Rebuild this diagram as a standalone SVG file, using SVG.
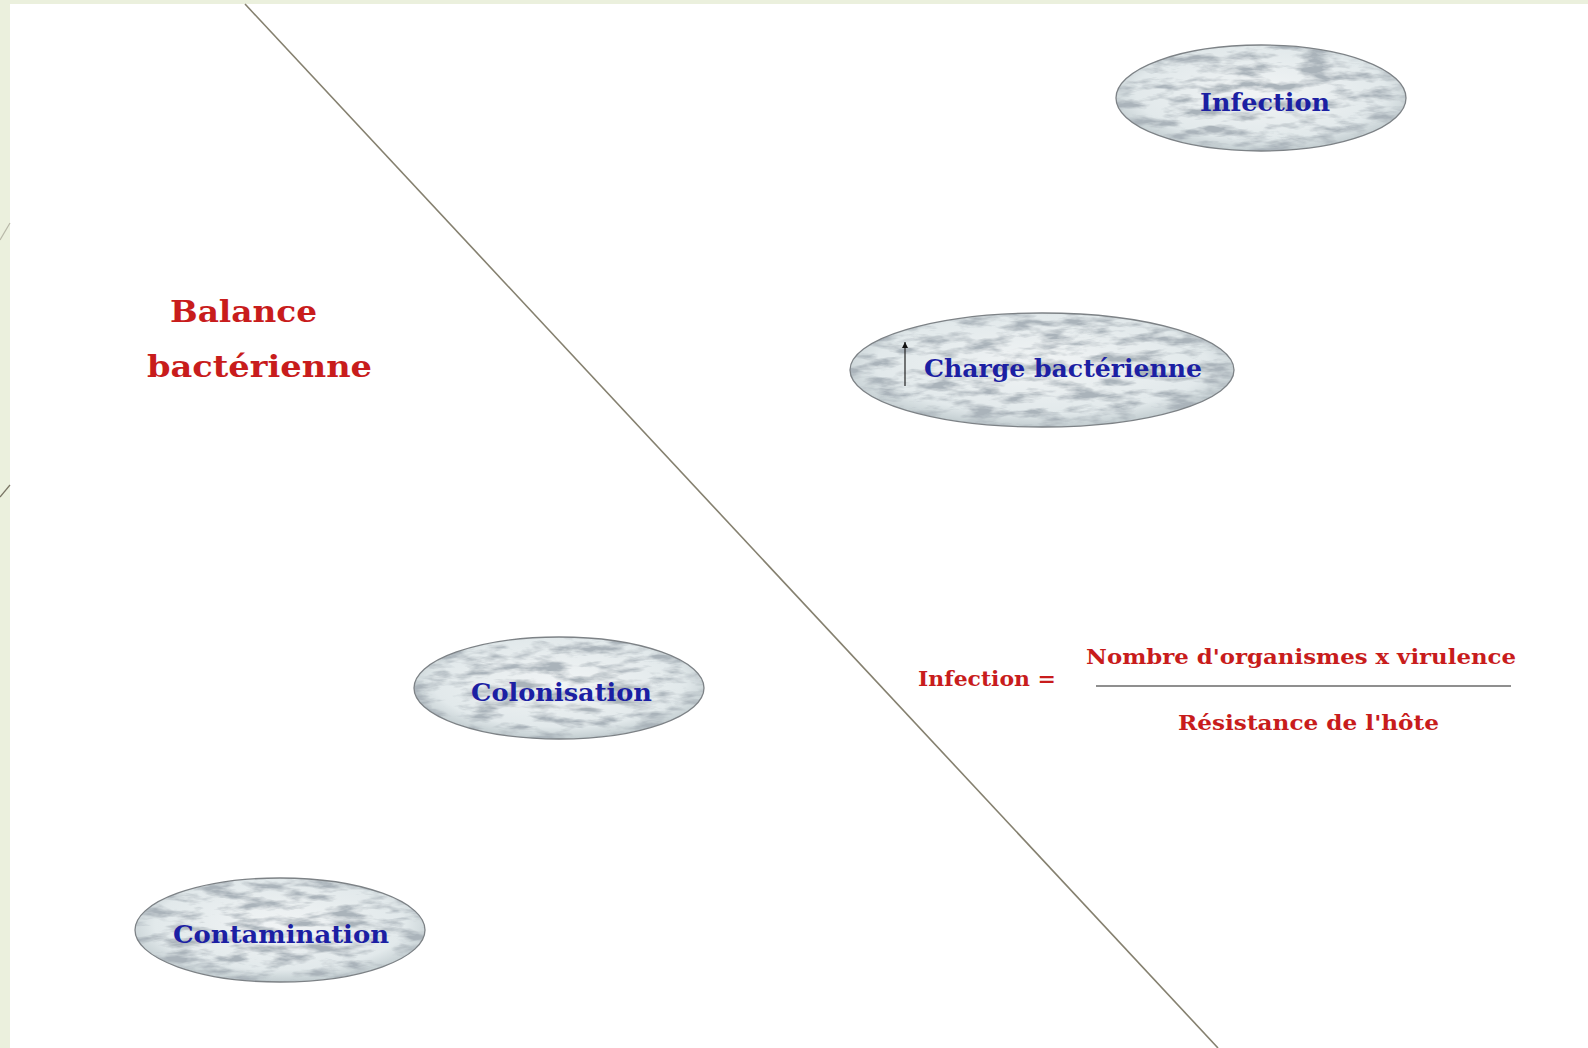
<svg xmlns="http://www.w3.org/2000/svg" width="1588" height="1048" viewBox="0 0 1588 1048">
  <style>
    .node-shape { fill: url(#marbleBase); filter: url(#marble); }
    .node-edge { fill: none; stroke: #7d8286; stroke-width: 1.3; }
    .node-label { font-family: "DejaVu Serif", "Liberation Serif", serif; font-weight: bold; fill: #1c1fa3; }
    .red { font-family: "DejaVu Serif", "Liberation Serif", serif; font-weight: bold; fill: #c81c1c; }
    .divider { stroke: #85806f; stroke-width: 1.6; fill: none; }
  </style>
  <defs>
    <radialGradient id="marbleBase" cx="50%" cy="45%" r="60%">
      <stop offset="0" stop-color="#f1f4f5"/>
      <stop offset="0.72" stop-color="#e2e9eb"/>
      <stop offset="1" stop-color="#b4c0c4"/>
    </radialGradient>
    <filter id="marble" x="0" y="0" width="100%" height="100%">
      <feTurbulence type="fractalNoise" baseFrequency="0.03 0.11" numOctaves="4" seed="11" result="noise"/>
      <feColorMatrix in="noise" type="matrix" values="0 0 0 0 0.40  0 0 0 0 0.45  0 0 0 0 0.49  0 0 -3.2 0 1.85" result="veins"/>
      <feComposite in="veins" in2="SourceGraphic" operator="in" result="clipped"/>
      <feMerge>
        <feMergeNode in="SourceGraphic"/>
        <feMergeNode in="clipped"/>
      </feMerge>
    </filter>
    <marker id="arrowHead" viewBox="0 0 10 10" refX="10" refY="5" markerWidth="8" markerHeight="6" orient="auto" markerUnits="userSpaceOnUse">
      <path d="M0,0 L10,5 L0,10 Z" fill="#111"/>
    </marker>
  </defs>

  <!-- background -->
  <rect x="0" y="0" width="1588" height="1048" fill="#ebf0dd"/>
  <rect x="10" y="4" width="1578" height="1044" fill="#ffffff"/>
  <line x1="0" y1="240" x2="10" y2="223" stroke="#b8b8a8" stroke-width="1.2"/>
  <line x1="0" y1="497" x2="10" y2="485" stroke="#7a7565" stroke-width="1.2"/>

  <g id="connectors">
    <line class="divider" x1="245" y1="4" x2="1218" y2="1048"/>
    <line x1="1096" y1="686" x2="1511" y2="686" stroke="#6a6a6a" stroke-width="1.4"/>
  </g>

  <g id="node-infection">
    <ellipse class="node-shape" cx="1261" cy="98" rx="145" ry="53"/>
    <ellipse class="node-edge" cx="1261" cy="98" rx="145" ry="53"/>
    <text class="node-label" x="1200" y="111" font-size="24" textLength="130" lengthAdjust="spacingAndGlyphs">Infection</text>
  </g>

  <g id="node-charge">
    <ellipse class="node-shape" cx="1042" cy="370" rx="192" ry="57"/>
    <ellipse class="node-edge" cx="1042" cy="370" rx="192" ry="57"/>
    <line x1="905" y1="386" x2="905" y2="342" stroke="#222" stroke-width="1.2" marker-end="url(#arrowHead)"/>
    <text class="node-label" x="924" y="377" font-size="25" textLength="278" lengthAdjust="spacingAndGlyphs">Charge bactérienne</text>
  </g>

  <g id="node-colonisation">
    <ellipse class="node-shape" cx="559" cy="688" rx="145" ry="51"/>
    <ellipse class="node-edge" cx="559" cy="688" rx="145" ry="51"/>
    <text class="node-label" x="471" y="701" font-size="24" textLength="181" lengthAdjust="spacingAndGlyphs">Colonisation</text>
  </g>

  <g id="node-contamination">
    <ellipse class="node-shape" cx="280" cy="930" rx="145" ry="52"/>
    <ellipse class="node-edge" cx="280" cy="930" rx="145" ry="52"/>
    <text class="node-label" x="173" y="943" font-size="24" textLength="216" lengthAdjust="spacingAndGlyphs">Contamination</text>
  </g>

  <g id="title">
    <text class="red" x="170" y="322" font-size="30" textLength="147" lengthAdjust="spacingAndGlyphs" fill="#c0181c">Balance</text>
    <text class="red" x="147" y="377" font-size="30" textLength="225" lengthAdjust="spacingAndGlyphs" fill="#c0181c">bactérienne</text>
  </g>

  <g id="formula">
    <text class="red" x="918" y="686" font-size="20" textLength="138" lengthAdjust="spacingAndGlyphs">Infection =</text>
    <text class="red" x="1086" y="664" font-size="21" textLength="430" lengthAdjust="spacingAndGlyphs">Nombre d'organismes x virulence</text>
    <text class="red" x="1178" y="730" font-size="21" textLength="261" lengthAdjust="spacingAndGlyphs">Résistance de l'hôte</text>
  </g>
</svg>
